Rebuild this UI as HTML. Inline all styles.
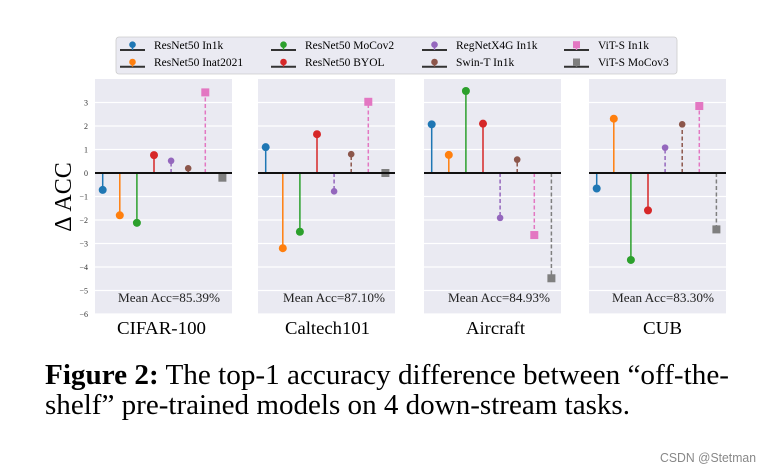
<!DOCTYPE html>
<html><head><meta charset="utf-8"><style>body{margin:0;background:#fff}svg{display:block}text{font-family:"Liberation Serif",serif}</style></head>
<body>
<svg id="chart" width="762" height="472" viewBox="0 0 762 472">
<g id="panels"></g>
<g id="legend"></g>
<text x="71" y="197" font-size="24" text-anchor="middle" transform="rotate(-90 71 197)">Δ ACC</text>
<text x="45" y="384" font-size="29" textLength="684" lengthAdjust="spacingAndGlyphs"><tspan font-weight="bold">Figure 2:</tspan> The top-1 accuracy difference between “off-the-</text>
<text x="45" y="414" font-size="29" textLength="585" lengthAdjust="spacingAndGlyphs">shelf” pre-trained models on 4 down-stream tasks.</text>
<text x="660" y="462" font-size="13" fill="#888" textLength="96" lengthAdjust="spacingAndGlyphs" style="font-family:'Liberation Sans',sans-serif">CSDN @Stetman</text>
</svg>
<script>
const datasets = ["CIFAR-100","Caltech101","Aircraft","CUB"];
const meanAcc = ["Mean Acc=85.39%","Mean Acc=87.10%","Mean Acc=84.93%","Mean Acc=83.30%"];
const models = ["ResNet50 In1k","ResNet50 Inat2021","ResNet50 MoCov2","ResNet50 BYOL","RegNetX4G In1k","Swin-T In1k","ViT-S In1k","ViT-S MoCov3"];
const colors = ["#1f77b4","#ff7f0e","#2ca02c","#d62728","#9467bd","#8c564b","#e377c2","#7f7f7f"];
const cifarVals = [-0.72,-1.8,-2.12,0.76,0.52,0.2,3.43,-0.2];
const caltechVals = [1.1,-3.2,-2.5,1.65,-0.78,0.8,3.03,0];
const aircraftVals = [2.07,0.77,3.49,2.1,-1.91,0.57,-2.64,-4.48];
const cubVals = [-0.66,2.31,-3.7,-1.59,1.08,2.07,2.85,-2.4];
const yTicks = [3,2,1,0,-1,-2,-3,-4,-5,-6];
const allVals = [cifarVals,caltechVals,aircraftVals,cubVals];

const NS="http://www.w3.org/2000/svg";
function mk(tag,attrs,parent){const e=document.createElementNS(NS,tag);for(const k in attrs)e.setAttribute(k,attrs[k]);parent.appendChild(e);return e;}
const panelX=[95,258,424,589], panelW=137, plotTop=79, plotBottom=314;
const yMax=4, yMin=-6;
function yScale(v){return plotTop+(yMax-v)/(yMax-yMin)*(plotBottom-plotTop);}
function xScale(p,i){return panelX[p]+7.7+i*17.1;}
const titleX=[[117,89],[285,85],[466,59],[643,39]];
const meanX=[118,283,448,612];
const G=document.getElementById('panels');
for(let p=0;p<4;p++){
  const g=mk('g',{},G);
  
  
  const bg=mk('rect',{x:panelX[p],y:plotTop,width:panelW,height:plotBottom-plotTop,fill:'#eaeaf2'},g);
  
  
  for(const t of yTicks){
    const gl=mk('line',{x1:panelX[p],x2:panelX[p]+panelW,y1:yScale(t),y2:yScale(t),stroke:'#fff','stroke-width':1.2},g);
    
    
    if(p===0){
      const tl=mk('text',{x:88,y:yScale(t)+3,'font-size':8,'text-anchor':'end',fill:'#333'},G);
      tl.textContent=String(t).replace('-','−');
      
      
    }
  }
  const vals=allVals[p];
  for(let i=0;i<vals.length;i++){
    const x=xScale(p,i), y=yScale(vals[i]), y0=yScale(0);
    const st=mk('line',{x1:x,x2:x,y1:y0,y2:y,stroke:colors[i],'stroke-width':1.5},g);
    if(i>=4) st.setAttribute('stroke-dasharray','4,2.5');
    
    
    let m;
    if(i>=6) m=mk('rect',{x:x-4,y:y-4,width:8,height:8,fill:colors[i]},g);
    else m=mk('circle',{cx:x,cy:y,r:(i===4||i===5)?3.3:4,fill:colors[i]},g);
    
    
  }
  const zl=mk('line',{x1:panelX[p],x2:panelX[p]+panelW,y1:yScale(0),y2:yScale(0),stroke:'#111','stroke-width':2},g);
  
  
  const ma=mk('text',{x:meanX[p],y:302,'font-size':13,textLength:102,lengthAdjust:'spacingAndGlyphs',fill:'#222'},g);
  ma.textContent=meanAcc[p];
  
  
  const tt=mk('text',{x:titleX[p][0],y:334,'font-size':18,textLength:titleX[p][1],lengthAdjust:'spacingAndGlyphs'},g);
  tt.textContent=datasets[p];
  
  
}
const L=document.getElementById('legend');
mk('rect',{x:116,y:37,width:561,height:37,rx:3,fill:'#eaeaf2',stroke:'#ccc','stroke-width':0.8},L);
const colX=[120,271,422,564];
for(let i=0;i<models.length;i++){
  const c=Math.floor(i/2), r=i%2;
  const hx=colX[c], ly=r?66.7:50, my=r?62:44.7;
  const e=mk('g',{},L);
  
  
  mk('line',{x1:hx,x2:hx+25,y1:ly,y2:ly,stroke:'#333','stroke-width':2},e);
  mk('line',{x1:hx+12.5,x2:hx+12.5,y1:ly,y2:my,stroke:colors[i],'stroke-width':1.5},e);
  if(i>=6) mk('rect',{x:hx+9,y:my-3.5,width:7,height:7,fill:colors[i]},e);
  else mk('circle',{cx:hx+12.5,cy:my,r:3.3,fill:colors[i]},e);
  const t=mk('text',{x:hx+34,y:r?66:49,'font-size':11.5},e);
  t.textContent=models[i];
}
</script>
</body></html>
